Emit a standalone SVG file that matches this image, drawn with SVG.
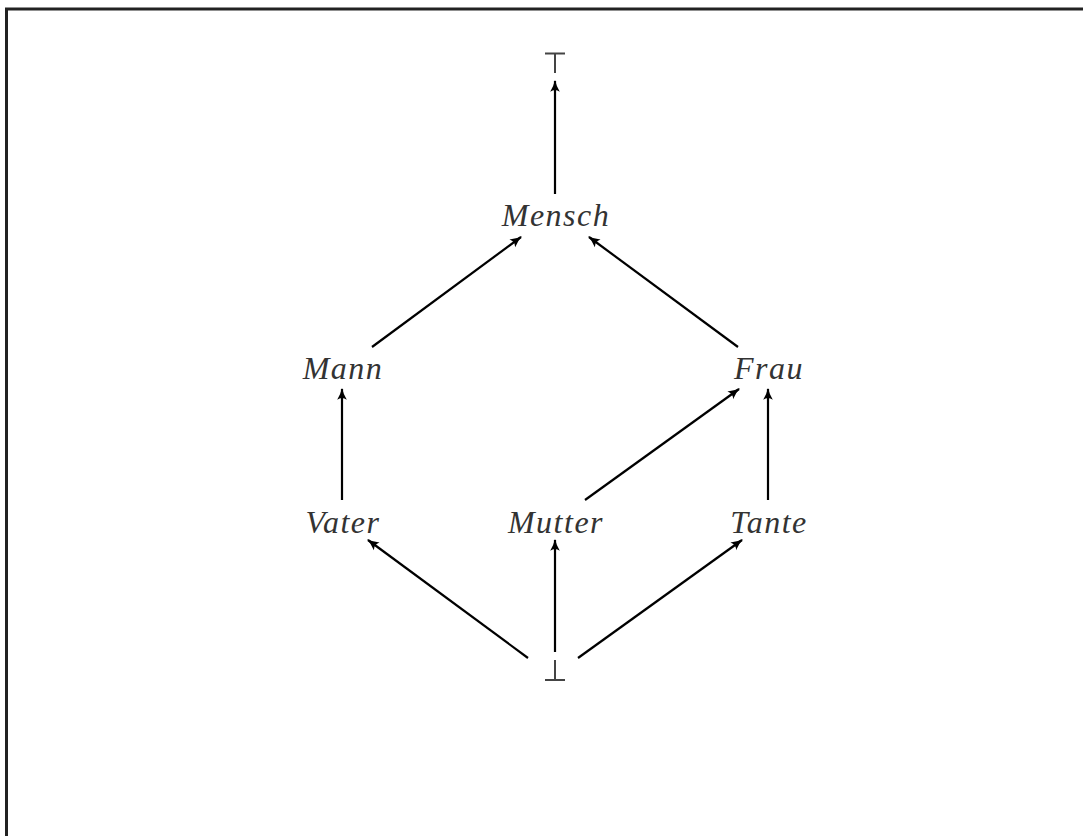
<svg xmlns="http://www.w3.org/2000/svg" width="1083" height="836" viewBox="0 0 1083 836">
  <defs>
    <marker id="arr" viewBox="0 0 10 10" refX="9" refY="5" markerWidth="12" markerHeight="12" markerUnits="userSpaceOnUse" orient="auto">
      <path d="M0,1 Q5,4 10,5 Q5,6 0,9 Q3,5 0,1 Z" fill="#000"/>
    </marker>
    <style>
      .lbl { font-family: "Liberation Serif", "DejaVu Serif", serif; font-style: italic; font-size: 32px; fill: #333; text-anchor: middle; letter-spacing: 1.5px; }
      .sym { stroke: #444; stroke-width: 2; fill: none; }
      .edge { stroke: #000; stroke-width: 2.2; fill: none; marker-end: url(#arr); }
    </style>
  </defs>
  <rect width="1083" height="836" fill="#fff"/>
  <!-- frame -->
  <path d="M6.5,836 V9 H1083" stroke="#222" stroke-width="3" fill="none"/>

  <g id="connectors">
    <line class="edge" x1="555" y1="194" x2="555" y2="81"/>
    <line class="edge" x1="372" y1="347" x2="521" y2="237"/>
    <line class="edge" x1="738" y1="347" x2="589" y2="237"/>
    <line class="edge" x1="342" y1="500" x2="342" y2="389"/>
    <line class="edge" x1="585" y1="500" x2="739" y2="389"/>
    <line class="edge" x1="768" y1="500" x2="768" y2="389"/>
    <line class="edge" x1="528" y1="658" x2="368" y2="540"/>
    <line class="edge" x1="555" y1="652" x2="555" y2="540"/>
    <line class="edge" x1="578" y1="658" x2="742" y2="540"/>
  </g>

  <g id="top">
    <path class="sym" d="M545,53.5 H565 M555,53.5 V73"/>
  </g>
  <g id="mensch"><text class="lbl" x="556" y="226">Mensch</text></g>
  <g id="mann"><text class="lbl" x="343" y="379">Mann</text></g>
  <g id="frau"><text class="lbl" x="769" y="379">Frau</text></g>
  <g id="vater"><text class="lbl" x="343" y="533">Vater</text></g>
  <g id="mutter"><text class="lbl" x="556" y="533">Mutter</text></g>
  <g id="tante"><text class="lbl" x="769" y="533">Tante</text></g>
  <g id="bottom">
    <path class="sym" d="M545,680 H565 M555,680 V660"/>
  </g>
</svg>
